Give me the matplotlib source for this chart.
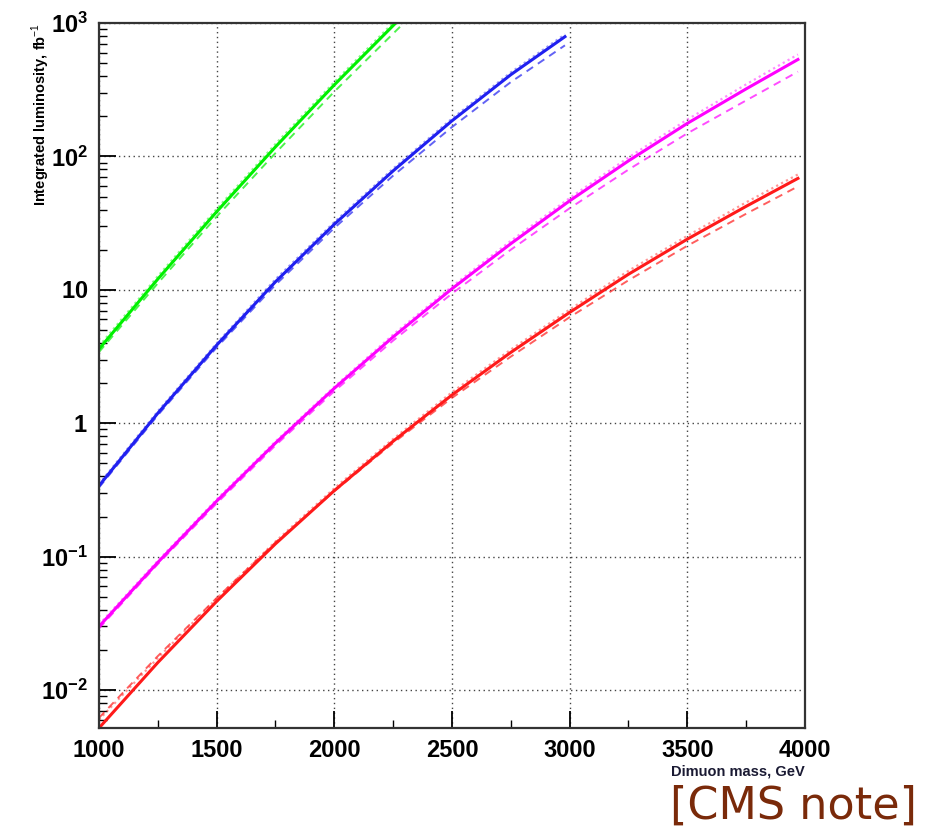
import matplotlib
matplotlib.use("Agg")
import matplotlib.pyplot as plt
from matplotlib.ticker import FixedLocator, LogLocator, NullFormatter

# Dimuon mass grid (GeV) for each curve
mass_green = [1000, 1250, 1500, 1750, 2000, 2250, 2300]
mass_blue = [1000, 1250, 1500, 1750, 2000, 2250, 2500, 2750, 2980]
mass_long = [1000, 1250, 1500, 1750, 2000, 2250, 2500, 2750, 3000, 3250, 3500, 3750, 3970]

# Integrated luminosity (fb^-1): solid / dashed / dotted
green_solid = [3.6, 12.05, 38.5, 118, 344, 957, 1170]
green_dashed = [3.42, 11.2, 35.4, 106, 306, 833, 1018]
green_dotted = [3.78, 12.65, 40.4, 124, 361, 1005, 1228]

blue_solid = [0.34, 1.19, 3.85, 11.5, 31, 78, 185, 410, 790]
blue_dashed = [0.33, 1.15, 3.7, 10.9, 29.1, 71.8, 166, 361, 680]
blue_dotted = [0.35, 1.23, 3.97, 12.0, 32.2, 81, 192, 426, 822]

magenta_solid = [0.030, 0.0906, 0.261, 0.711, 1.83, 4.44, 10.2, 22.2, 46.5, 92.7, 177, 321, 533]
magenta_dashed = [0.029, 0.088, 0.251, 0.683, 1.74, 4.17, 9.38, 20.0, 40.9, 79.7, 149, 263, 432]
magenta_dotted = [0.031, 0.0933, 0.269, 0.732, 1.88, 4.62, 10.6, 23.3, 48.8, 98.3, 189, 347, 581]

red_solid = [0.0052, 0.0161, 0.0463, 0.125, 0.313, 0.734, 1.63, 3.40, 6.78, 13.1, 24.0, 42.3, 68.5]
red_dashed = [0.0062, 0.018, 0.049, 0.128, 0.31, 0.712, 1.55, 3.16, 6.24, 11.8, 21.4, 37.2, 59.6]
red_dotted = [0.006, 0.0174, 0.0486, 0.13, 0.326, 0.763, 1.71, 3.57, 7.12, 13.9, 25.4, 45.3, 73.3]

x_ticks = [1000, 1500, 2000, 2500, 3000, 3500, 4000]
y_ticks = [1e-2, 1e-1, 1, 10, 1e2, 1e3]
y_ticklabels = [r"$\mathbf{10^{-2}}$", r"$\mathbf{10^{-1}}$", r"$\mathbf{1}$",
                r"$\mathbf{10}$", r"$\mathbf{10^{2}}$", r"$\mathbf{10^{3}}$"]

plt.rcParams["font.family"] = ["Liberation Sans", "DejaVu Sans"]
plt.rcParams["mathtext.fontset"] = "custom"
plt.rcParams["mathtext.rm"] = "Liberation Sans"
plt.rcParams["mathtext.bf"] = "Liberation Sans:bold"

fig = plt.figure(figsize=(9.39, 8.31), dpi=100)
ax = fig.add_axes([0.1054, 0.1239, 0.7519, 0.8484])

series = [
    (mass_green, green_solid, green_dashed, green_dotted, "#00f000"),
    (mass_blue, blue_solid, blue_dashed, blue_dotted, "#2020f0"),
    (mass_long, magenta_solid, magenta_dashed, magenta_dotted, "#ff00ff"),
    (mass_long, red_solid, red_dashed, red_dotted, "#ff1a1a"),
]
for m, solid, dashed, dotted, col in series:
    ax.plot(m, dotted, color=col, lw=1.6, ls=(0, (1, 1.5)), alpha=0.45)
    ax.plot(m, dashed, color=col, lw=1.4, ls=(0, (4, 3)), alpha=0.7)
    ax.plot(m, solid, color=col, lw=2.2)

ax.set_yscale("log")
ax.set_xlim(1000, 4000)
ax.set_ylim(0.0052, 1000)

ax.xaxis.set_major_locator(FixedLocator(x_ticks))
ax.xaxis.set_minor_locator(FixedLocator([1250, 1750, 2250, 2750, 3250, 3750]))
ax.set_xticklabels([str(v) for v in x_ticks])
ax.set_yticks(y_ticks)
ax.set_yticklabels(y_ticklabels)
ax.yaxis.set_minor_locator(LogLocator(base=10, subs=range(2, 10)))
ax.yaxis.set_minor_formatter(NullFormatter())

ax.tick_params(which="both", direction="in", top=False, right=False)
ax.tick_params(which="major", length=12, width=1.3, labelsize=17, pad=8)
ax.tick_params(which="minor", length=6, width=1.0)
for lab in ax.get_xticklabels():
    lab.set_fontweight("bold")

ax.grid(True, which="major", ls=(0, (1, 2.5)), color="#444444", lw=1.0)
for s in ax.spines.values():
    s.set_linewidth(1.6)
    s.set_color("#333333")

fig.text(0.043, 0.972, r"Integrated luminosity, fb$^{-1}$", rotation=90,
         ha="center", va="top", fontsize=10.5, fontweight="bold")
fig.text(0.857, 0.072, "Dimuon mass, GeV", ha="right", va="center",
         fontsize=10.5, fontweight="bold", color="#1a1a33")
fig.text(0.977, 0.03, "[CMS note]", ha="right", va="center",
         fontsize=32, color="#7a2a0a", family="DejaVu Sans")

fig.savefig("out.png", dpi=100)
